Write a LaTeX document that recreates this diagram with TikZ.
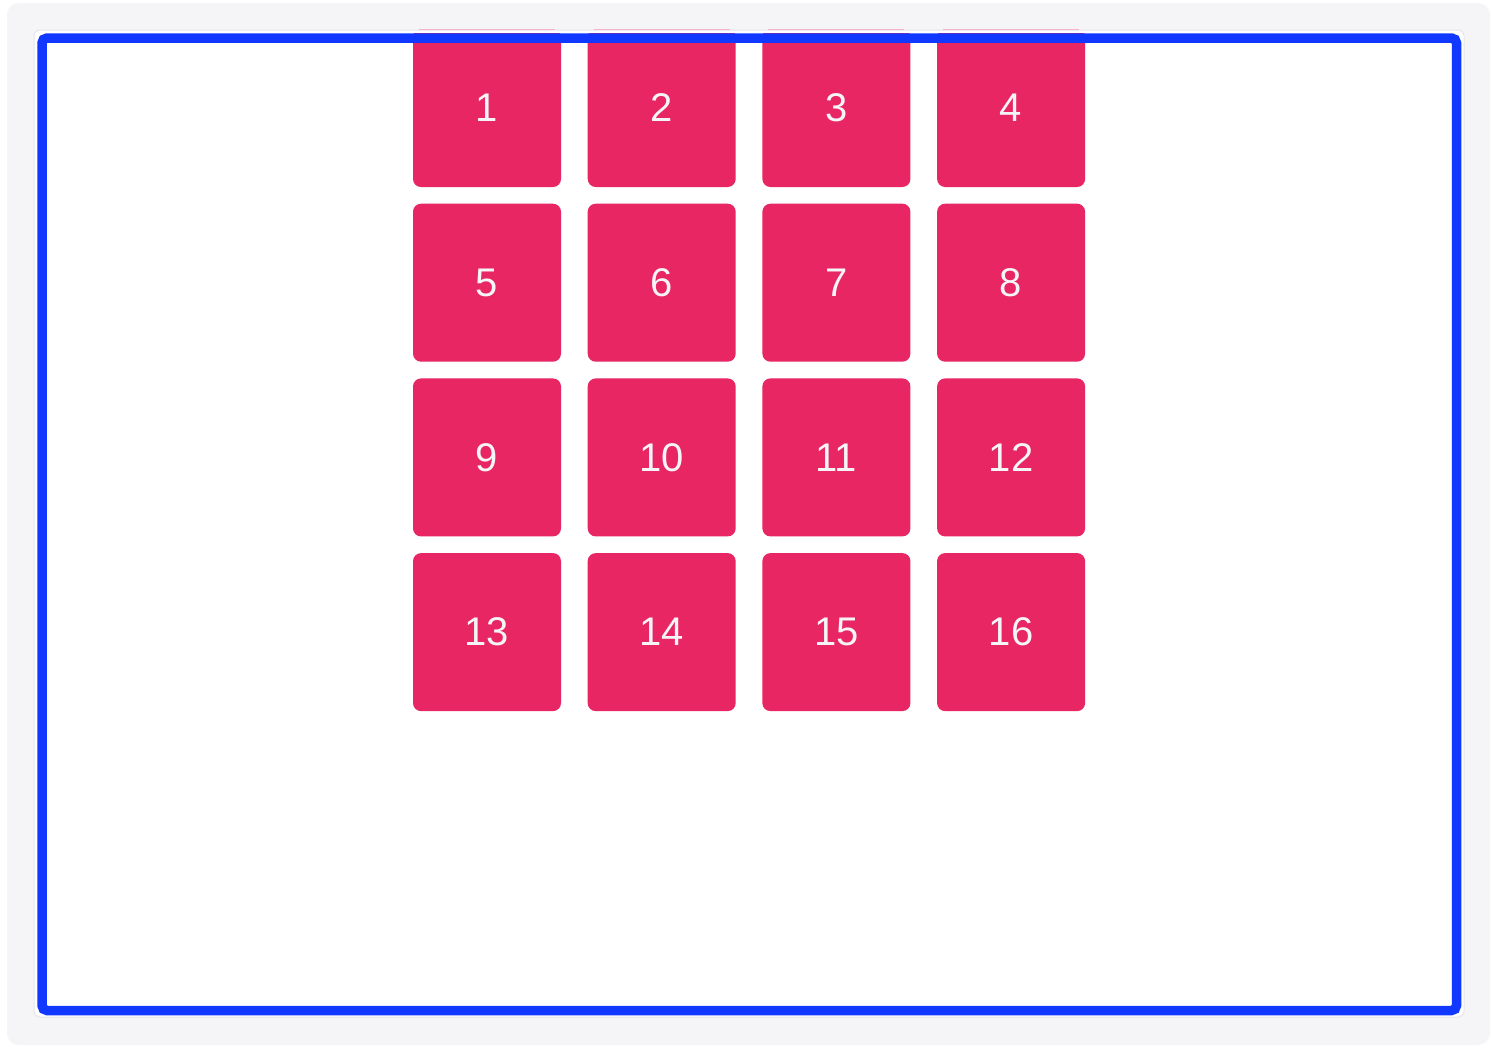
\documentclass[tikz,border=0pt]{standalone}
\usepackage{fontspec}
\setmainfont{Liberation Sans}
\definecolor{pagebg}{HTML}{F5F5F7}
\definecolor{tilepink}{HTML}{E72663}
\definecolor{frameblue}{HTML}{1038FF}
\definecolor{tiletext}{HTML}{F5F5F7}
\definecolor{paneledge}{HTML}{E6E6EA}
\tikzset{
  tile/.style={fill=tilepink, draw=none, rounded corners=8pt, minimum width=148pt, minimum height=158pt,
    inner sep=0pt, text=tiletext, font=\fontsize{40}{48}\selectfont},
  frame/.style={draw=frameblue, line width=9.5pt, rounded corners=5pt},
}
\begin{document}
\begin{tikzpicture}[x=1pt,y=-1pt]
\useasboundingbox (0,0) rectangle (1492,1050);
\fill[white] (0,0) rectangle (1492,1050);
\fill[pagebg, rounded corners=12pt] (7,3) rectangle (1490,1045);
\filldraw[fill=white, draw=paneledge, line width=1pt, rounded corners=6pt] (34,30) rectangle (1464,1017);
\foreach \c in {0,1,2,3}{
  \draw[tilepink!35, line width=1pt] (419+\c*174.7,29.5) -- (555+\c*174.7,29.5);
}
\begin{scope}
\clip (0,33) rectangle (1492,1050);
\foreach \r in {0,1,2,3}{
  \foreach \c in {0,1,2,3}{
    \pgfmathtruncatemacro{\n}{\r*4+\c+1}
    \node[tile] (t\n) at (487+\c*174.7, 108+\r*174.7) {\n};
  }
}
\end{scope}
\draw[frame] (42,38) rectangle (1456.5,1010.5);
\end{tikzpicture}
\end{document}
